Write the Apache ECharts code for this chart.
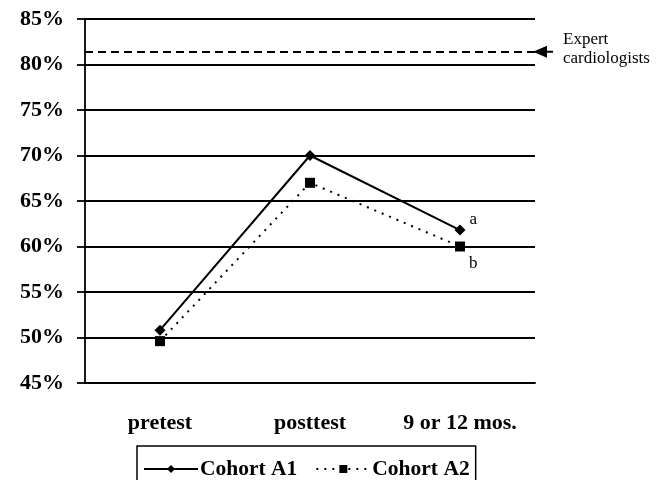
<!DOCTYPE html>
<html><head><meta charset="utf-8">
<script src="https://cdn.jsdelivr.net/npm/echarts@6/dist/echarts.min.js"></script>
<style>html,body{margin:0;padding:0;background:#fff}#c{width:667px;height:480px}</style>
</head><body><div id="c"></div>
<script>
const categories = ['pretest', 'posttest', '9 or 12 mos.'];
const cohortA1 = [50.8, 70.0, 61.8];
const cohortA2 = [49.6, 67.0, 60.0];
const expertLevel = 81.4;
const pointNotes = ['a', 'b'];
const yMin = 45, yMax = 85, yStep = 5;

const serif = '"Liberation Serif", "Times New Roman", serif';
const chart = echarts.init(document.getElementById('c'));

function withNote(arr, note, offset) {
  return arr.map((v, i) => i === arr.length - 1 ? {
    value: v,
    label: { show: true, formatter: note, position: 'right', offset: offset,
      fontFamily: serif, fontSize: 17, color: '#000' }
  } : v);
}

chart.setOption({
  animation: false,
  grid: { left: 85, right: 132, top: 19, bottom: 97 },
  xAxis: {
    type: 'category', data: categories, boundaryGap: true,
    axisLine: { show: true, lineStyle: { color: '#000', width: 1.8 } },
    axisTick: { show: false },
    axisLabel: { margin: 29, fontFamily: serif, fontWeight: 'bold', fontSize: 22, color: '#000' }
  },
  yAxis: {
    type: 'value', min: yMin, max: yMax, interval: yStep,
    axisLine: { show: true, lineStyle: { color: '#000', width: 1.8 } },
    axisTick: { show: true, length: 8, lineStyle: { color: '#000', width: 1.8 } },
    splitLine: { show: true, lineStyle: { color: '#000', width: 1.8 } },
    axisLabel: { formatter: '{value}%', margin: 21, fontFamily: serif, fontWeight: 'bold', fontSize: 22, color: '#000' }
  },
  legend: {
    left: 137, top: 446,
    padding: [12, 6, 14, 6],
    borderColor: '#000', borderWidth: 1.5,
    itemWidth: 54, itemHeight: 10, itemGap: 18,
    textStyle: { fontFamily: serif, fontWeight: 'bold', fontSize: 21.5, color: '#000', padding: [0, 0, 0, -3] },
    data: ['Cohort A1', 'Cohort A2']
  },
  series: [
    {
      name: 'Cohort A1', type: 'line', data: withNote(cohortA1, pointNotes[0], [-1, -11]),
      symbol: 'diamond', symbolSize: 11,
      lineStyle: { color: '#000', width: 2 },
      itemStyle: { color: '#000' },
      markLine: {
        silent: true, symbol: 'none', label: { show: false },
        lineStyle: { color: '#000', width: 2, type: [8, 5] },
        data: [{ yAxis: expertLevel }]
      }
    },
    {
      name: 'Cohort A2', type: 'line', data: withNote(cohortA2, pointNotes[1], [-1, 17]),
      symbol: 'rect', symbolSize: 10,
      lineStyle: { color: '#000', width: 2, type: [2, 6] },
      itemStyle: { color: '#000' }
    }
  ]
});

const p = chart.convertToPixel({ gridIndex: 0 }, [2, expertLevel]);
const ay = p[1];
const ax = 533;
chart.setOption({
  graphic: [
    { type: 'polygon', shape: { points: [[ax, ay], [ax + 14, ay - 6], [ax + 14, ay + 6]] }, style: { fill: '#000' } },
    { type: 'line', shape: { x1: ax + 10, y1: ay, x2: ax + 20, y2: ay }, style: { stroke: '#000', lineWidth: 2 } },
    { type: 'text', left: 563, top: ay - 22, style: { text: 'Expert\ncardiologists', fontFamily: serif, fontSize: 17, lineHeight: 19, fill: '#000' } }
  ]
});
</script></body></html>
